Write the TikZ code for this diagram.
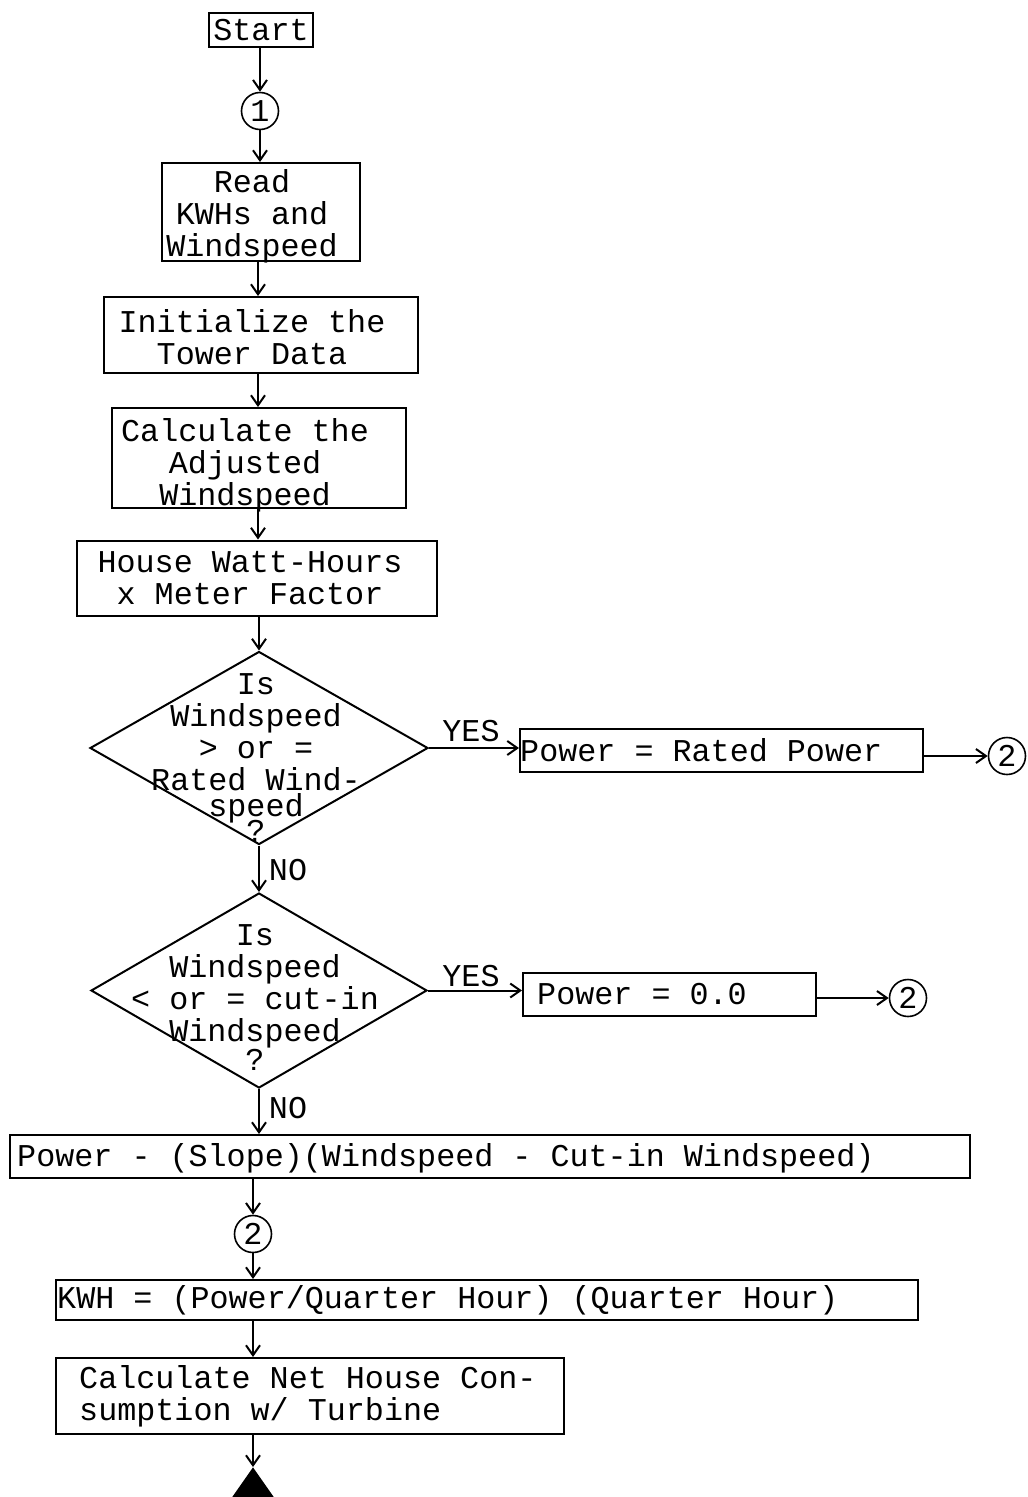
\documentclass[tikz,border=0pt]{standalone}
\usepackage{fontspec}
\newfontfamily\mono{Liberation Mono}
\usetikzlibrary{shapes.geometric,arrows.meta}
\tikzset{
  every node/.style={font=\mono\fontsize{31.75}{32}\selectfont, inner sep=0pt},
  box/.style={draw, line width=2pt, align=center},
  txt/.style={anchor=west},
  dia/.style={draw, diamond, line width=2pt},
  conn/.style={draw, circle, line width=1.6pt, minimum size=37pt},
  arr/.style={line width=2pt, -{Straight Barb[length=10pt,width=14pt,line width=2pt]}},
}
\begin{document}
\begin{tikzpicture}[x=1pt,y=-1pt]
\useasboundingbox (0,0) rectangle (1028,1497);
% nodes
\node[box, minimum width=104pt, minimum height=34pt] (start) at (261,30) {Start};
\node[conn] (c1) at (260,111) {1};
\node[box, minimum width=198pt, minimum height=98pt] (read) at (261,212) {};
\node[align=center] (readt) at (252,216) {Read\\KWHs and\\Windspeed};
\node[box, minimum width=314pt, minimum height=76pt] (init) at (261,335) {};
\node[align=center] (initt) at (252,337) {Initialize the\\Tower Data};
\node[box, minimum width=294pt, minimum height=100pt] (calc) at (259,458) {};
\node[align=center] (calct) at (245,465) {Calculate the\\Adjusted\\Windspeed};
\node[box, minimum width=360pt, minimum height=75pt] (house) at (257,578) {};
\node[align=center] (houset) at (250,578) {House Watt-Hours\\x Meter Factor};
\node[dia, minimum width=338pt, minimum height=193pt] (d1) at (259,748) {};
\node[align=center] (d1t) at (256,758) {Is\\Windspeed\\> or =\\Rated Wind-\\[-6pt]speed\\[-7pt]?};
\node[box, minimum width=403pt, minimum height=43pt] (prp) at (721.5,750.5) {};
\node[txt] (prpt) at ([xshift=1pt]prp.west) {Power = Rated Power};
\node[conn] (c2a) at (1007,756) {2};
\node[dia, minimum width=336pt, minimum height=195pt] (d2) at (259,990.5) {};
\node[align=center] (d2t) at (255,998) {Is\\Windspeed\\< or = cut-in\\Windspeed\\[-3pt]?};
\node[box, minimum width=293pt, minimum height=43pt] (p0) at (669.5,994.5) {};
\node[txt] (p0t) at ([xshift=15pt]p0.west) {Power = 0.0};
\node[conn] (c2b) at (908,998) {2};
\node[box, minimum width=960pt, minimum height=43pt] (ps) at (490,1156.5) {};
\node[txt] (pst) at ([xshift=8pt,yshift=-2pt]ps.west) {Power - (Slope)(Windspeed - Cut-in Windspeed)};
\node[conn] (c2c) at (253,1234) {2};
\node[box, minimum width=862pt, minimum height=40pt] (kwh) at (487,1300) {};
\node[txt] (kwht) at ([xshift=2pt]kwh.west) {KWH = (Power/Quarter Hour) (Quarter Hour)};
\node[box, minimum width=508pt, minimum height=76pt] (net) at (310,1396) {};
\node[txt, align=left] (nett) at ([xshift=24pt]net.west) {Calculate Net House Con-\\sumption w/ Turbine};
\node[isosceles triangle, isosceles triangle apex angle=70, isosceles triangle stretches, shape border rotate=90, fill, minimum height=30pt, minimum width=42pt, anchor=apex] (tri) at (253,1467) {};
% labels
\node (yes1) at (471,731) {YES};
\node (yes2) at (471,976) {YES};
\node (no1) at (288,870) {NO};
\node (no2) at (288,1108) {NO};
% connectors
\draw[arr] (start.south -| c1) -- (c1.north);
\draw[arr] (c1.south) -- (read.north -| c1);
\draw[arr] (read.south -| 258,0) -- (init.north -| 258,0);
\draw[arr] (init.south -| 258,0) -- (calc.north -| 258,0);
\draw[arr] (calc.south -| 258,0) -- (house.north -| 258,0);
\draw[arr] (house.south -| d1.north) -- (d1.north);
\draw[arr] (d1.east) -- (prp.west |- d1.east);
\draw[arr] (prp.east |- c2a.west) -- (c2a.west);
\draw[arr] (d1.south) -- (d2.north);
\draw[arr] (d2.east) -- (p0.west |- d2.east);
\draw[arr] (p0.east |- c2b.west) -- (c2b.west);
\draw[arr] (d2.south) -- (ps.north -| d2.south);
\draw[arr] (ps.south -| c2c) -- (c2c.north);
\draw[arr] (c2c.south) -- (kwh.north -| c2c);
\draw[arr] (kwh.south -| c2c) -- (net.north -| c2c);
\draw[arr] (net.south -| tri.apex) -- (tri.apex);
\end{tikzpicture}
\end{document}
